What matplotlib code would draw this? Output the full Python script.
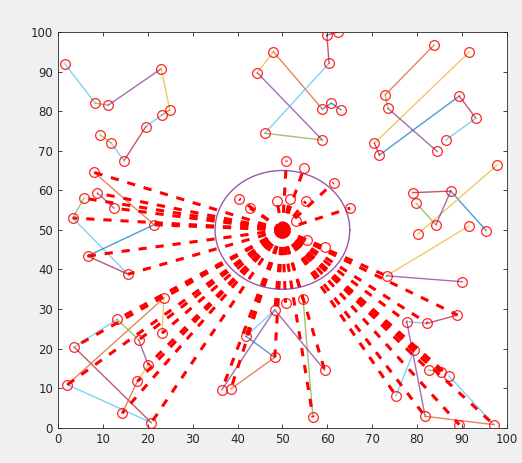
import numpy as np
import matplotlib
matplotlib.use("Agg")
import matplotlib.pyplot as plt

# node positions (x, y in axis units)
node_x = [1.5, 8.3, 11.2, 23.0, 24.9, 23.1, 19.6, 14.7, 11.8, 9.4,
          44.4, 48.0, 58.9, 60.9, 63.1, 58.9, 46.1, 60.4, 59.9, 62.4,
          83.8, 91.6, 72.9, 73.5, 89.4, 93.1, 86.4, 84.5, 70.5, 71.6,
          97.9, 87.5, 79.0, 79.8, 84.2, 80.1, 91.6, 95.4, 73.2, 90.1,
          8.1, 5.8, 8.8, 3.3, 6.6, 15.6, 21.4, 12.5,
          23.6, 13.2, 3.6, 23.2, 18.0, 20.1, 17.7, 2.1, 14.3, 20.8,
          50.7, 54.6, 48.3, 41.9, 48.3, 59.4, 36.5, 38.5, 56.8,
          89.0, 82.3, 77.7, 79.4, 82.6, 85.3, 87.1, 75.3, 81.8, 89.4, 97.1,
          50.9, 54.8, 61.4, 65.1, 40.4, 42.8, 48.8, 51.7, 55.2, 53.1, 55.4, 59.4]
node_y = [92.0, 82.0, 81.5, 90.7, 80.3, 79.0, 76.1, 67.5, 72.0, 74.0,
          89.7, 95.0, 80.5, 82.0, 80.3, 72.7, 74.4, 92.1, 99.2, 100.0,
          96.7, 94.9, 84.1, 80.7, 83.8, 78.2, 72.7, 69.8, 71.9, 68.9,
          66.4, 59.8, 59.4, 56.7, 51.3, 48.9, 51.0, 49.8, 38.4, 36.9,
          64.5, 58.0, 59.3, 53.0, 43.4, 38.8, 51.3, 55.5,
          32.8, 27.4, 20.4, 23.9, 22.2, 15.9, 11.7, 10.9, 3.7, 1.3,
          31.6, 32.5, 29.8, 23.1, 17.8, 14.6, 9.6, 9.8, 2.7,
          28.5, 26.4, 26.8, 19.7, 14.6, 14.2, 13.1, 8.1, 2.9, 0.8, 0.8,
          67.5, 65.6, 61.9, 55.5, 57.8, 55.5, 57.2, 57.8, 57.2, 52.2, 47.5, 45.6]

# thin links between nodes: (from, to, colour index)
links = [(0, 1, 5), (1, 2, 4), (2, 3, 3), (3, 4, 2), (4, 5, 1), (5, 6, 5), (6, 7, 6), (7, 8, 5), (8, 9, 4),
         (10, 11, 2), (11, 12, 1), (10, 15, 3), (16, 17, 5), (16, 15, 4), (17, 18, 6), (18, 19, 3),
         (12, 13, 0), (13, 14, 0),
         (22, 20, 1), (28, 21, 2), (29, 24, 0), (24, 25, 6), (25, 26, 5), (23, 27, 3), (22, 23, 4), (28, 29, 6),
         (32, 31, 6), (31, 37, 0), (33, 34, 4), (35, 30, 2), (34, 31, 3), (38, 36, 2), (38, 39, 3),
         (40, 46, 1), (41, 43, 4), (43, 45, 5), (44, 46, 0), (44, 45, 6), (42, 47, 3),
         (50, 57, 6), (55, 57, 5), (55, 48, 1), (50, 49, 5), (49, 52, 4), (52, 53, 3), (53, 54, 2),
         (54, 56, 1), (48, 51, 2),
         (59, 66, 4), (60, 63, 3), (64, 60, 3), (60, 61, 5), (61, 62, 0), (65, 62, 1),
         (68, 67, 6), (69, 68, 5), (69, 75, 3), (74, 70, 5), (73, 77, 5), (75, 77, 1), (71, 72, 4)]

# nodes joined to the sink by the red dashed lines
sink_links = [38] + list(range(40, 90))
sink = (50, 50)
ring_radius = 15

matlab_colors = [(0, 0.447, 0.741), (0.85, 0.325, 0.098), (0.929, 0.694, 0.125),
                 (0.494, 0.184, 0.556), (0.466, 0.674, 0.188), (0.301, 0.745, 0.933),
                 (0.635, 0.078, 0.184)]

fig = plt.figure(figsize=(5.22, 4.63), dpi=100, facecolor=(0.94, 0.94, 0.94))
ax = fig.add_axes([0.111, 0.076, 0.86, 0.855])
ax.set_facecolor("white")

for a, b, c in links:
    ax.plot([node_x[a], node_x[b]], [node_y[a], node_y[b]], color=matlab_colors[c],
            lw=1.0, alpha=0.7, zorder=1)

for n in sink_links:
    ax.plot([sink[0], node_x[n]], [sink[1], node_y[n]], color="red", lw=2.2,
            dashes=(2.7, 2.9), dash_capstyle="butt", zorder=2)

theta = np.linspace(0, 2 * np.pi, 200)
ax.plot(sink[0] + ring_radius * np.cos(theta), sink[1] + ring_radius * np.sin(theta),
        color=matlab_colors[3], lw=1.0, alpha=0.8, zorder=2)

ax.plot(node_x, node_y, "o", ms=7, mfc="none", mec="red", mew=0.9, alpha=0.85, zorder=3)
ax.plot(*sink, "o", ms=11, color="red", zorder=4)

ax.set_xlim(0, 100)
ax.set_ylim(0, 100)
ax.set_xticks(range(0, 101, 10))
ax.set_yticks(range(0, 101, 10))
ax.tick_params(direction="in", top=True, right=True, length=3, labelsize=8.5,
               colors=(0.15, 0.15, 0.15), width=0.6)
for s in ax.spines.values():
    s.set_color((0.15, 0.15, 0.15))
    s.set_linewidth(0.6)

fig.savefig("out.png", dpi=100, facecolor=fig.get_facecolor())
